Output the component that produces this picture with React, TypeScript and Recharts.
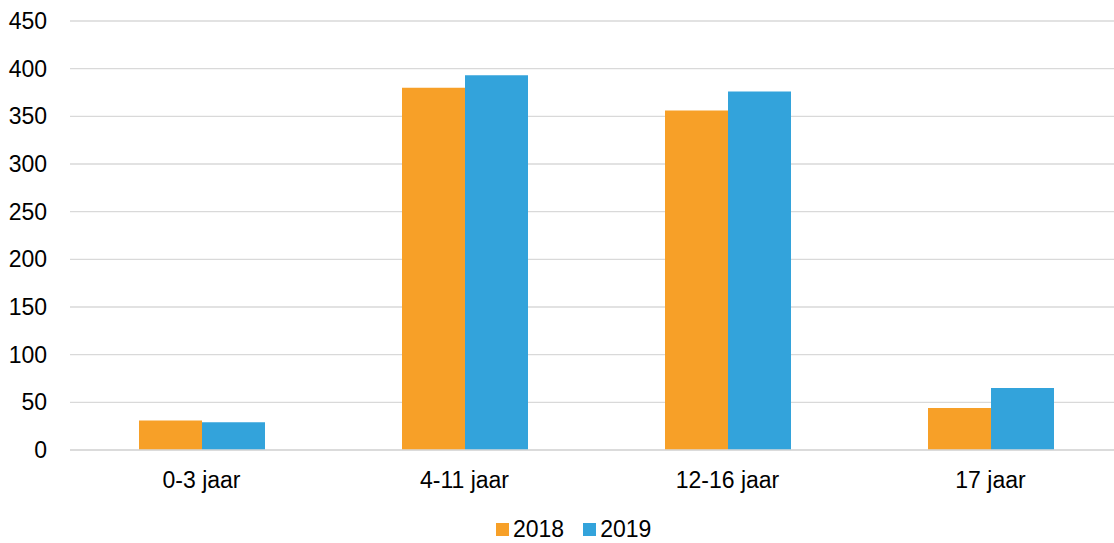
import React from 'react';
import { BarChart, Bar, XAxis, YAxis, CartesianGrid, Legend } from 'recharts';

const categories = ['0-3 jaar', '4-11 jaar', '12-16 jaar', '17 jaar'];
const values2018 = [31, 380, 356, 44];
const values2019 = [29, 393, 376, 65];
const yTicks = [0, 50, 100, 150, 200, 250, 300, 350, 400, 450];

const seriesNames = ['2018', '2019'];
const colors = ['#F7A028', '#33A3DB'];

const data = categories.map((c, i) => ({
  name: c,
  [seriesNames[0]]: values2018[i],
  [seriesNames[1]]: values2019[i],
}));

const FONT = 'Liberation Sans, Arial, sans-serif';

const LegendContent = (props: any) => {
  const { payload } = props;
  return (
    <div style={{ display: 'flex', alignItems: 'center', fontFamily: FONT, fontSize: 23, color: '#000' }}>
      {payload.map((p: any, i: number) => (
        <div key={p.value} style={{ display: 'flex', alignItems: 'center', marginRight: i < payload.length - 1 ? 19 : 0 }}>
          <div style={{ width: 13, height: 13, background: p.color, marginRight: 4 }} />
          <span style={{ lineHeight: '26px' }}>{p.value}</span>
        </div>
      ))}
    </div>
  );
};

export default function App() {
  return (
    <div style={{ position: 'absolute', left: 0, top: 0, width: 1114, height: 543, overflow: 'hidden', background: '#fff' }}>
      <BarChart
        width={1122}
        height={543}
        data={data}
        margin={{ top: 21, right: 0, bottom: 37, left: 0 }}
        barGap={0}
        barSize={63}
      >
        <CartesianGrid vertical={false} stroke="#d9d9d9" strokeWidth={1.3} />
        <XAxis
          dataKey="name"
          axisLine={{ stroke: '#d9d9d9', strokeWidth: 1.3 }}
          tickLine={false}
          tickSize={0}
          tickMargin={22}
          tick={{ fill: '#000', fontSize: 23, fontFamily: FONT }}
        />
        <YAxis
          width={70}
          domain={[0, 450]}
          ticks={yTicks}
          interval={0}
          axisLine={false}
          tickLine={false}
          tickSize={0}
          tickMargin={23}
          tick={{ fill: '#000', fontSize: 23, fontFamily: FONT }}
        />
        <Legend
          content={<LegendContent />}
          wrapperStyle={{ position: 'absolute', left: 496, top: 516, width: 'auto' }}
        />
        <Bar dataKey={seriesNames[0]} fill={colors[0]} isAnimationActive={false} />
        <Bar dataKey={seriesNames[1]} fill={colors[1]} isAnimationActive={false} />
      </BarChart>
    </div>
  );
}
